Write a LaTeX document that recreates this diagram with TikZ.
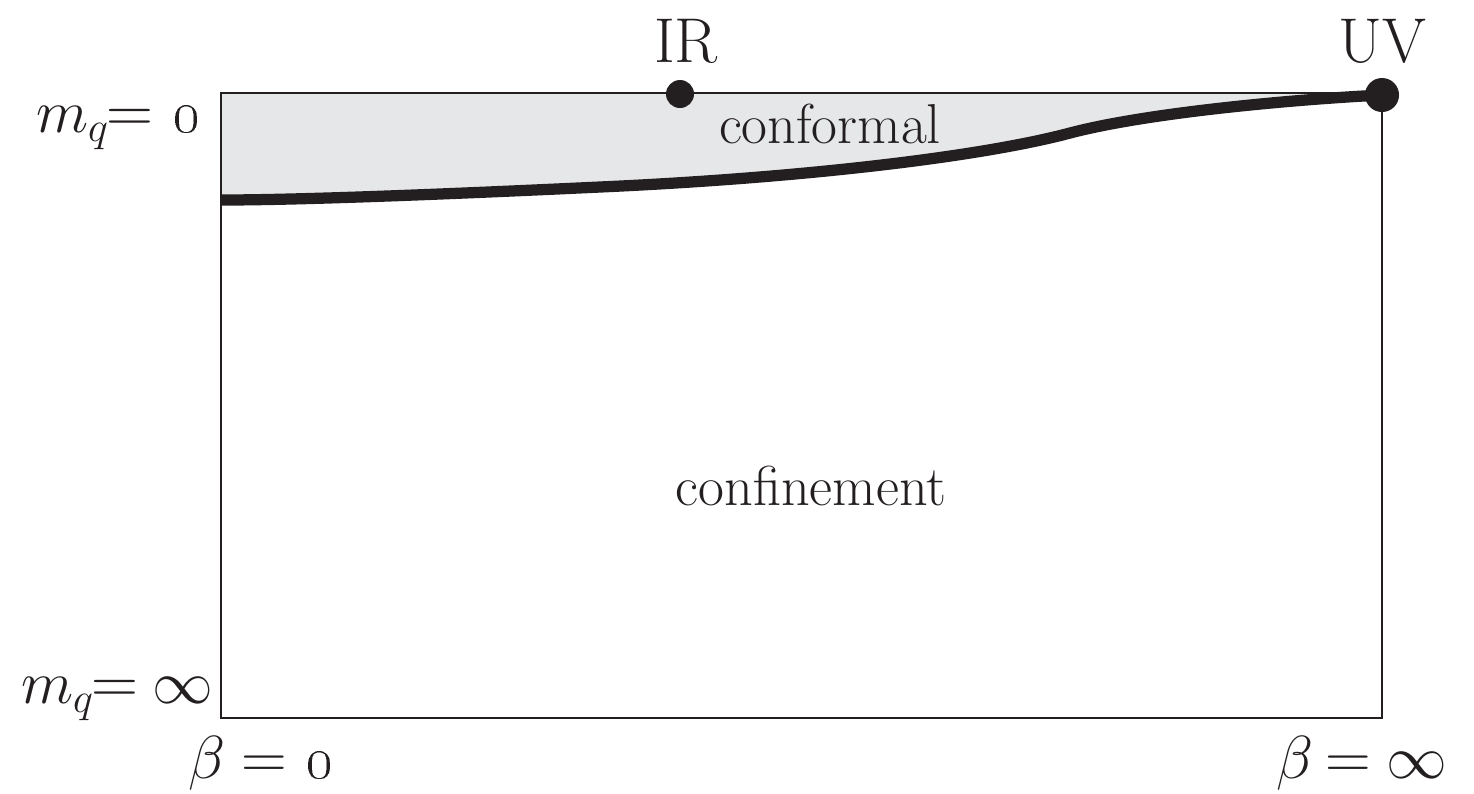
\documentclass[tikz,border=0pt]{standalone}
\usetikzlibrary{calc}
\definecolor{windowgray}{RGB}{230,231,232}
\definecolor{ink}{RGB}{35,31,32}
\tikzset{
  frame/.style={draw=ink, line width=0.75pt},
  boundary/.style={draw=ink, line width=3.2pt, line cap=butt},
  fixedpt/.style={circle, fill=ink, inner sep=0pt, minimum size=0.28cm},
  lbl/.style={text=ink, inner sep=0pt, font=\fontsize{18}{20}\selectfont},
  masslbl/.style={text=ink, inner sep=0pt, font=\fontsize{18.5}{21}\selectfont},
  region/.style={text=ink, inner sep=0pt, font=\fontsize{16}{18}\selectfont},
}
\begin{document}
\begin{tikzpicture}[x=0.01cm, y=-0.01cm]
  \useasboundingbox (0,0) rectangle (1474,793);
  % corners of the phase diagram
  \coordinate (tl) at (221,93);
  \coordinate (tr) at (1382,93);
  \coordinate (bl) at (221,718);
  \coordinate (br) at (1382,718);
  \coordinate (start) at (221,200);
  % shaded conformal window
  \fill[windowgray] (tl) -- (tr) -- (1382,95)
    .. controls (1300,99) and (1150,112) .. (1070,133)
    .. controls (980,157) and (800,178) .. (600,187)
    .. controls (450,194) and (300,200) .. (start) -- cycle;
  % frame
  \draw[frame] (tl) rectangle (br);
  % fixed points
  \node[fixedpt, minimum size=0.34cm] (uv) at (1382,95) {};
  \node[fixedpt] (ir) at (680,94) {};
  % phase boundary
  \draw[boundary] (start)
    .. controls (300,200) and (450,194) .. (600,187)
    .. controls (800,178) and (980,157) .. (1070,133)
    .. controls (1150,112) and (1300,99) .. (uv.center);
  % labels
  \node[lbl, anchor=base] (irl) at (686,62) {IR};
  \node[lbl, anchor=base] (uvl) at (1382,62) {UV};
  \node[region, anchor=base] (conf) at (830,143) {conformal};
  \node[region, anchor=base] (confine) at (811,505) {confinement};
  \node[masslbl, anchor=base east] (m0) at (202,132) {$m_q$\kern-1pt= \oldstylenums{0}};
  \node[masslbl, anchor=base east] (minf) at (214,703) {$m_q$\kern-1pt=\kern-1.5pt\ $\infty$};
  \node[lbl, anchor=base west] (b0) at (188,778) {$\beta$\kern-1pt\ = \oldstylenums{0}};
  \node[lbl, anchor=base east] (binf) at (1448,778) {$\beta$\kern-2pt\ =\kern-1pt\ $\infty$};
\end{tikzpicture}
\end{document}
